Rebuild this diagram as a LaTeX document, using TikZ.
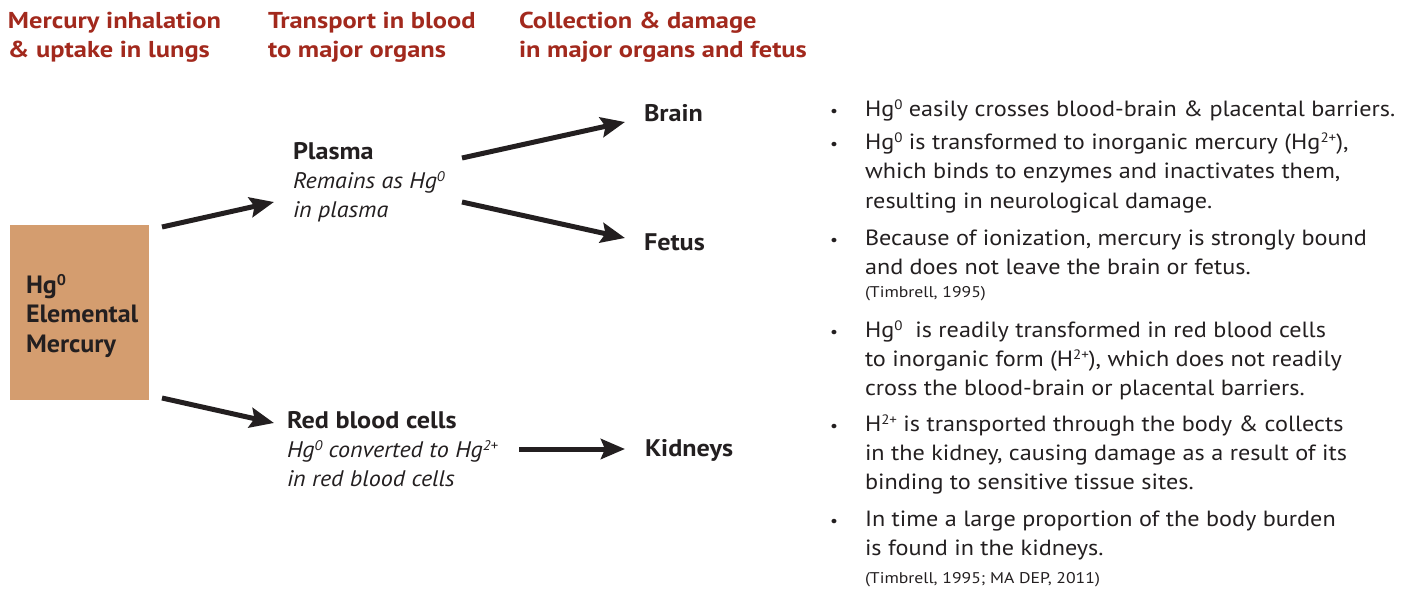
\documentclass[tikz,border=0pt]{standalone}
\usepackage{fontspec}
\setmainfont{PT Sans}
\newfontfamily\bodyf{PT Sans}[FakeStretch=1.10]
\newfontfamily\hdrf{PT Sans}[FakeStretch=1.15]
\newfontfamily\lblf{PT Sans}[FakeStretch=1.09]
\newfontfamily\boxf{PT Sans}[FakeStretch=1.04]
\newfontfamily\itf{PT Sans}[FakeStretch=1.07]
\newfontfamily\citef{PT Sans}[FakeStretch=1.14]
\newcommand{\supx}[1]{\raisebox{0.62ex}{\scalebox{0.62}{#1}}}
\usetikzlibrary{arrows.meta}
\definecolor{hdrred}{HTML}{A2291D}
\definecolor{boxfill}{HTML}{D49D6F}
\definecolor{ink}{HTML}{231F20}
\begin{document}
\begin{tikzpicture}[x=1pt,y=-1pt,
  every node/.style={inner sep=0pt, outer sep=0pt, anchor=base west, text=ink},
  hdr/.style={font=\hdrf\fontsize{23}{27}\selectfont\bfseries, text=hdrred},
  lbl/.style={font=\lblf\fontsize{24}{28}\selectfont\bfseries},
  boxtxt/.style={font=\boxf\fontsize{25}{29}\selectfont\bfseries},
  itl/.style={font=\itf\fontsize{22.5}{26}\selectfont\itshape},
  body/.style={font=\bodyf\fontsize{22}{26}\selectfont},
  cite/.style={font=\citef\fontsize{15.5}{18}\selectfont},
  dot/.style={font=\bodyf\fontsize{16}{18}\selectfont},
  flow/.style={line width=5pt, draw=ink, -{Stealth[length=24pt,width=20pt,inset=4pt]}}
]
\useasboundingbox (0,0) rectangle (1408,589);

% headers
\node[hdr] (h1a) at (8,28) {Mercury inhalation};
\node[hdr] (h1b) at (8,57) {\& uptake in lungs};
\node[hdr] (h2a) at (268,28) {Transport in blood};
\node[hdr] (h2b) at (268,57) {to major organs};
\node[hdr] (h3a) at (519,28) {Collection \& damage};
\node[hdr] (h3b) at (519,57) {in major organs and fetus};

% source box
\path[fill=boxfill] (10,225) rectangle (149,400);
\coordinate (srcT) at (162,227);
\coordinate (srcB) at (162,398);
\node[boxtxt] (hg) at (26,293) {Hg\supx{0}};
\node[boxtxt] (elem) at (26,322) {Elemental};
\node[boxtxt] (merc) at (26,352) {Mercury};

% plasma
\node[lbl] (plasma) at (293,159) {Plasma};
\node[itl] (plasma2) at (293,188) {Remains as Hg\supx{0}};
\node[itl] (plasma3) at (293,217) {in plasma};
\coordinate (plIn) at (274,202);
\coordinate (plOutA) at (462,158);
\coordinate (plOutB) at (462,202);

% red blood cells
\node[lbl] (rbc) at (287,428) {Red blood cells};
\node[itl] (rbc2) at (287,457) {Hg\supx{0} converted to Hg\supx{2+}};
\node[itl] (rbc3) at (287,486) {in red blood cells};
\coordinate (rbIn) at (274,423);
\coordinate (rbOut) at (519,449);

% organs
\node[lbl] (brain) at (644,121) {Brain};
\node[lbl] (fetus) at (644,250) {Fetus};
\node[lbl] (kid) at (645,456) {Kidneys};
\coordinate (brIn) at (625,122);
\coordinate (feIn) at (625,238);
\coordinate (kiIn) at (625,449);

% arrows
\draw[flow] (srcT) -- (plIn);
\draw[flow] (srcB) -- (rbIn);
\draw[flow] (plOutA) -- (brIn);
\draw[flow] (plOutB) -- (feIn);
\draw[flow] (rbOut) -- (kiIn);

% bullets
\node[dot] (d1) at (830,116) {•};
\node[body] (t1a) at (865,116) {Hg\supx{0} easily crosses blood-brain \& placental barriers.};
\node[dot] (d2) at (830,149) {•};
\node[body] (t2a) at (865,149) {Hg\supx{0} is transformed to inorganic mercury (Hg\supx{2+}),};
\node[body] (t2b) at (865,178) {which binds to enzymes and inactivates them,};
\node[body] (t2c) at (865,208) {resulting in neurological damage.};
\node[dot] (d3) at (830,245) {•};
\node[body] (t3a) at (865,245) {Because of ionization, mercury is strongly bound};
\node[body] (t3b) at (865,274) {and does not leave the brain or fetus.};
\node[cite] (c1) at (865,297) {(Timbrell, 1995)};
\node[dot] (d4) at (830,337) {•};
\node[body] (t4a) at (865,337) {Hg\supx{0}\ \ is readily transformed in red blood cells};
\node[body] (t4b) at (865,366) {to inorganic form (H\supx{2+}), which does not readily};
\node[body] (t4c) at (865,395) {cross the blood-brain or placental barriers.};
\node[dot] (d5) at (830,431) {•};
\node[body] (t5a) at (865,431) {H\supx{2+} is transported through the body \& collects};
\node[body] (t5b) at (865,460) {in the kidney, causing damage as a result of its};
\node[body] (t5c) at (865,489) {binding to sensitive tissue sites.};
\node[dot] (d6) at (830,526) {•};
\node[body] (t6a) at (865,526) {In time a large proportion of the body burden};
\node[body] (t6b) at (865,555) {is found in the kidneys.};
\node[cite] (c2) at (865,583) {(Timbrell, 1995; MA DEP, 2011)};
\end{tikzpicture}
\end{document}
